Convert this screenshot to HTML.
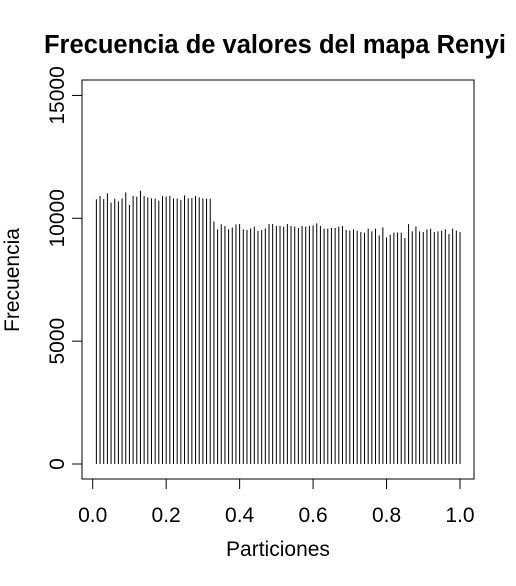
<!DOCTYPE html>
<html><head><meta charset="utf-8"><style>
body{margin:0;background:#fff;}
svg text{font-family:"Liberation Sans",Arial,sans-serif;fill:#000;}
</style></head><body>
<svg id="chart" width="516" height="581">
<text x="275" y="53" text-anchor="middle" font-size="25.5" font-weight="bold">Frecuencia de valores del mapa Renyi</text>
<rect x="82" y="80" width="392" height="399" fill="none" stroke="#000" stroke-width="1"/>
<g id="bars"></g>
<g id="xaxis"></g>
<g id="yaxis"></g>
<text x="278" y="556" text-anchor="middle" font-size="21">Particiones</text>
<text transform="translate(19,280) rotate(-90)" text-anchor="middle" font-size="21">Frecuencia</text>
</svg>
<script>
const highVals=[10772,10908,10786,11016,10636,10799,10691,10813,11057,10541,10908,10881,11125,10908,10853,10813,10799,10718,10908,10881,10908,10813,10799,10745,10935,10813,10826,10908,10853,10813,10799,10799];
const midVals=[9863,9551,9754,9686,9551,9619,9754,9768,9551,9524,9592,9660,9483,9524,9592,9768];
const lowVals=[9768,9687,9687,9659,9768,9687,9659,9605,9687,9659,9687,9714,9795,9687,9578,9578,9605,9605,9659,9687,9524,9497,9551,9497,9442,9415,9578,9469,9578,9307,9632,9225,9334,9415,9415,9415,9198,9768,9469,9659,9469,9442,9551,9578,9442,9469,9497,9551,9361,9578,9497,9442];
const values=highVals.concat(midVals,lowVals);
const xTicks=[0,0.2,0.4,0.6,0.8,1.0];
const xTickLabels=["0.0","0.2","0.4","0.6","0.8","1.0"];
const yTicks=[0,5000,10000,15000];
const yTickLabels=["0","5000","10000","15000"];
const ns="http://www.w3.org/2000/svg";
function xs(v){return 92.7+367.3*v;}
function ys(v){return 464-0.02457*v;}
const bars=document.getElementById('bars');
values.forEach((v,i)=>{
  const p=(i+1)/values.length;
  const l=document.createElementNS(ns,'line');
  l.setAttribute('x1',xs(p));l.setAttribute('x2',xs(p));
  l.setAttribute('y1',ys(0));l.setAttribute('y2',ys(v));
  l.setAttribute('stroke','#000');l.setAttribute('stroke-width','1');
  
  
  bars.appendChild(l);
});
const xa=document.getElementById('xaxis');
let al=document.createElementNS(ns,'line');
al.setAttribute('x1',xs(0));al.setAttribute('x2',xs(1));al.setAttribute('y1',479);al.setAttribute('y2',479);al.setAttribute('stroke','#000');
xa.appendChild(al);
xTicks.forEach((t,i)=>{
  const l=document.createElementNS(ns,'line');
  l.setAttribute('x1',xs(t));l.setAttribute('x2',xs(t));l.setAttribute('y1',479);l.setAttribute('y2',489);l.setAttribute('stroke','#000');
  
  
  xa.appendChild(l);
  const tx=document.createElementNS(ns,'text');
  tx.setAttribute('x',xs(t));tx.setAttribute('y',522);tx.setAttribute('text-anchor','middle');tx.setAttribute('font-size','21');
  tx.textContent=xTickLabels[i];
  
  
  xa.appendChild(tx);
});
const ya=document.getElementById('yaxis');
al=document.createElementNS(ns,'line');
al.setAttribute('x1',82);al.setAttribute('x2',82);al.setAttribute('y1',ys(0));al.setAttribute('y2',ys(15000));al.setAttribute('stroke','#000');
ya.appendChild(al);
yTicks.forEach((t,i)=>{
  const l=document.createElementNS(ns,'line');
  l.setAttribute('x1',72);l.setAttribute('x2',82);l.setAttribute('y1',ys(t));l.setAttribute('y2',ys(t));l.setAttribute('stroke','#000');
  
  
  ya.appendChild(l);
  const tx=document.createElementNS(ns,'text');
  tx.setAttribute('transform','translate(64,'+ys(t)+') rotate(-90)');
  tx.setAttribute('text-anchor','middle');tx.setAttribute('font-size','21');
  tx.textContent=yTickLabels[i];
  
  
  ya.appendChild(tx);
});
</script>
</body></html>
